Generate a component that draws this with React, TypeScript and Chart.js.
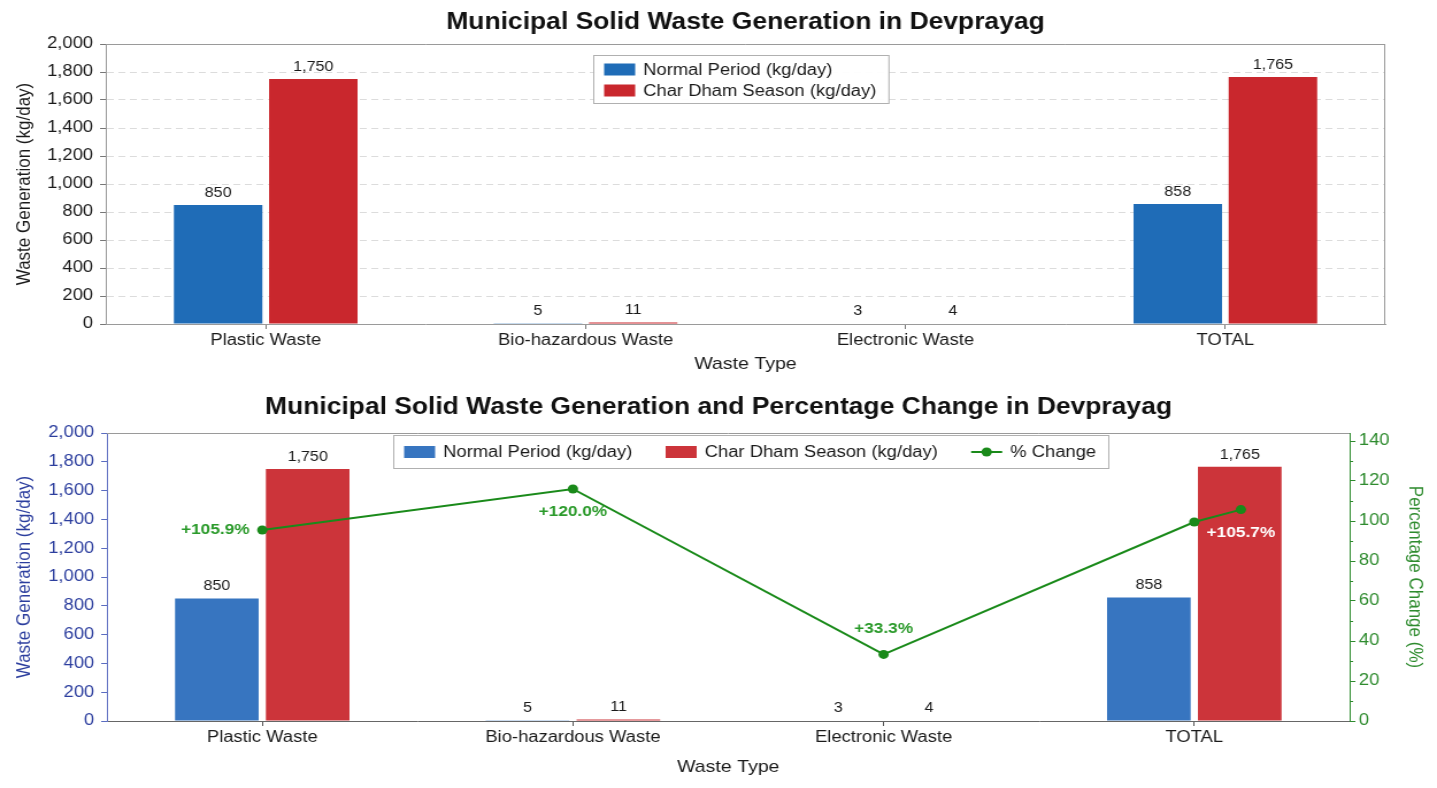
import React, { useEffect, useRef } from 'react';
import { Chart, registerables } from 'chart.js';

Chart.register(...registerables);

const FONT = '"Liberation Sans", Arial, Helvetica, sans-serif';
Chart.defaults.font.family = FONT;

// the reference is a horizontally stretched figure: draw at a narrower
// logical width and stretch the canvas back out to the full page width
const PAGE_W = 1437;
const LOGICAL_W = 1250;
const STRETCH = PAGE_W / LOGICAL_W;

// data
const categories = ['Plastic Waste', 'Bio-hazardous Waste', 'Electronic Waste', 'TOTAL'];
const normalPeriod = [850, 5, 3, 858];
const charDhamSeason = [1750, 11, 4, 1765];

// % change line as plotted (last point sits over the TOTAL season bar)
const pctX = [0, 1, 2, 3, 3.15];
const pctPlotted = [95.5, 116, 33.3, 99.5, 105.7];
const pctLabels = ['+105.9%', '+120.0%', '+33.3%', '', '+105.7%'];
const pctLabelSpot = ['left', 'below', 'above', 'none', 'below'];

const fmt = (v: number) => Number(v).toLocaleString('en-US');

const valueLabels = {
  id: 'valueLabels',
  afterDatasetsDraw(chart: any) {
    const ctx = chart.ctx;
    ctx.save();
    ctx.font = `14px ${FONT}`;
    ctx.fillStyle = '#1a1a1a';
    ctx.textAlign = 'center';
    ctx.textBaseline = 'bottom';
    chart.data.datasets.forEach((ds: any, di: number) => {
      if (ds.type === 'line') return;
      chart.getDatasetMeta(di).data.forEach((bar: any, i: number) => {
        const v = typeof ds.data[i] === 'object' ? ds.data[i].y : ds.data[i];
        ctx.fillText(fmt(v), bar.x, bar.y - 5);
      });
    });
    ctx.restore();
  },
};

function titlePlugin(text: string, overArea: boolean) {
  return {
    id: 'figTitle',
    afterDraw(chart: any) {
      const { ctx, chartArea, width } = chart;
      ctx.save();
      ctx.font = `bold 23px ${FONT}`;
      ctx.fillStyle = '#111';
      ctx.textAlign = 'center';
      ctx.textBaseline = 'middle';
      const cx = overArea ? (chartArea.left + chartArea.right) / 2 : width / 2;
      ctx.fillText(text, cx, 23);
      ctx.restore();
    },
  };
}

type LegendEntry = { label: string; color: string; kind: 'box' | 'line' };

function legendPlugin(entries: LegendEntry[], vertical: boolean, dx: number, dy: number) {
  return {
    id: 'boxLegend',
    afterDraw(chart: any) {
      const { ctx, chartArea } = chart;
      ctx.save();
      ctx.font = `16px ${FONT}`;
      const widths = entries.map((e) => ctx.measureText(e.label).width);
      const sw = 27, gap = 7, padL = 9, padR = 11, itemGap = 29;
      let w: number, h: number;
      if (vertical) {
        w = padL + sw + gap + Math.max(...widths) + padR;
        h = 48;
      } else {
        w = padL + widths.reduce((a, b) => a + b + sw + gap, 0) + itemGap * (entries.length - 1) + padR;
        h = 33;
      }
      const cx = (chartArea.left + chartArea.right) / 2 + dx;
      const x0 = Math.round(cx - w / 2) + 0.5;
      const y0 = chartArea.top + dy + 0.5;
      ctx.fillStyle = 'rgba(255,255,255,0.92)';
      ctx.fillRect(x0, y0, w, h);
      ctx.strokeStyle = '#b0b0b0';
      ctx.lineWidth = 1;
      ctx.strokeRect(x0, y0, w, h);
      ctx.textBaseline = 'middle';
      ctx.textAlign = 'left';
      let x = x0 + padL;
      entries.forEach((e, i) => {
        const y = vertical ? y0 + 14 + i * 21 : y0 + h / 2;
        if (vertical) x = x0 + padL;
        if (e.kind === 'box') {
          ctx.fillStyle = e.color;
          ctx.fillRect(x, y - 6, sw, 12);
        } else {
          ctx.strokeStyle = e.color;
          ctx.lineWidth = 2;
          ctx.beginPath();
          ctx.moveTo(x, y);
          ctx.lineTo(x + sw, y);
          ctx.stroke();
          ctx.fillStyle = e.color;
          ctx.beginPath();
          ctx.arc(x + sw / 2, y, 4.5, 0, Math.PI * 2);
          ctx.fill();
        }
        ctx.fillStyle = '#1a1a1a';
        ctx.fillText(e.label, x + sw + gap, y + 1);
        x += sw + gap + widths[i] + itemGap;
      });
      ctx.restore();
    },
  };
}

function framePlugin(sides: { top?: string; right?: string }) {
  return {
    id: 'frame',
    afterDatasetsDraw(chart: any) {
      const { ctx, chartArea } = chart;
      ctx.save();
      ctx.lineWidth = 1;
      if (sides.top) {
        ctx.strokeStyle = sides.top;
        ctx.beginPath();
        ctx.moveTo(chartArea.left, chartArea.top + 0.5);
        ctx.lineTo(chartArea.right, chartArea.top + 0.5);
        ctx.stroke();
      }
      if (sides.right) {
        ctx.strokeStyle = sides.right;
        ctx.beginPath();
        ctx.moveTo(chartArea.right - 0.5, chartArea.top);
        ctx.lineTo(chartArea.right - 0.5, chartArea.bottom);
        ctx.stroke();
      }
      ctx.restore();
    },
  };
}

const pctLabelPlugin = {
  id: 'pctLabels',
  afterDatasetsDraw(chart: any) {
    const ctx = chart.ctx;
    const di = chart.data.datasets.findIndex((d: any) => d.type === 'line');
    if (di < 0) return;
    ctx.save();
    ctx.font = `bold 15px ${FONT}`;
    ctx.textBaseline = 'middle';
    chart.getDatasetMeta(di).data.forEach((pt: any, i: number) => {
      const spot = pctLabelSpot[i];
      if (spot === 'none') return;
      ctx.fillStyle = i === pctLabels.length - 1 ? '#ffffff' : '#2a9a2a';
      if (spot === 'left') {
        ctx.textAlign = 'right';
        ctx.fillText(pctLabels[i], pt.x - 11, pt.y);
      } else {
        ctx.textAlign = 'center';
        ctx.fillText(pctLabels[i], pt.x, spot === 'below' ? pt.y + 23 : pt.y - 26);
      }
    });
    ctx.restore();
  },
};

const minorTicks = {
  id: 'minorTicks',
  afterDraw(chart: any) {
    const s = chart.scales.y2;
    if (!s) return;
    const ctx = chart.ctx;
    ctx.save();
    ctx.strokeStyle = '#2e8b2e';
    ctx.lineWidth = 1;
    for (let v = 10; v < 144; v += 20) {
      const y = Math.round(s.getPixelForValue(v)) + 0.5;
      ctx.beginPath();
      ctx.moveTo(s.left, y);
      ctx.lineTo(s.left + 3, y);
      ctx.stroke();
    }
    ctx.restore();
  },
};

const topConfig = (): any => ({
  type: 'bar',
  data: {
    labels: categories,
    datasets: [
      { label: 'Normal Period (kg/day)', data: normalPeriod, backgroundColor: '#1f6cb7', barPercentage: 0.93, categoryPercentage: 0.595 },
      { label: 'Char Dham Season (kg/day)', data: charDhamSeason, backgroundColor: '#c9272d', barPercentage: 0.93, categoryPercentage: 0.595 },
    ],
  },
  options: {
    animation: false,
    responsive: true,
    maintainAspectRatio: false,
    layout: { padding: { left: 0, right: 45, top: 44, bottom: 0 } },
    plugins: {
      legend: { display: false },
      tooltip: { enabled: false },
      title: { display: false },
    },
    scales: {
      x: {
        grid: { display: true, drawOnChartArea: false, offset: false, tickLength: 5, tickColor: '#777' },
        border: { display: true, color: '#9a9a9a' },
        ticks: { color: '#1a1a1a', font: { size: 16 }, padding: 2 },
        title: { display: true, text: 'Waste Type', color: '#1a1a1a', font: { size: 17 }, padding: { top: 4, bottom: 10 } },
        afterFit: (s: any) => { s.height = 61; },
      },
      y: {
        min: 0,
        max: 2000,
        ticks: { stepSize: 200, color: '#1a1a1a', font: { size: 16 }, padding: 6, callback: (v: any) => fmt(v) },
        grid: { color: '#dcdcdc', tickColor: '#777', tickLength: 5 },
        border: { display: true, color: '#9a9a9a', dash: [6, 4] },
        title: { display: true, text: 'Waste Generation (kg/day)', color: '#1a1a1a', font: { size: 17 }, padding: { top: 11, bottom: 0 } },
        afterFit: (s: any) => { s.width = 92; },
      },
    },
  },
  plugins: [
    valueLabels,
    framePlugin({ top: '#9a9a9a', right: '#9a9a9a' }),
    titlePlugin('Municipal Solid Waste Generation in Devprayag', true),
    legendPlugin(
      [
        { label: 'Normal Period (kg/day)', color: '#1f6cb7', kind: 'box' },
        { label: 'Char Dham Season (kg/day)', color: '#c9272d', kind: 'box' },
      ],
      true,
      -4,
      11,
    ),
  ],
});

// bottom chart: one linear x axis (category index) shared by bars and line
const bottomConfig = (): any => ({
  type: 'bar',
  data: {
    datasets: [
      {
        type: 'line',
        label: '% Change',
        data: pctX.map((x, i) => ({ x, y: pctPlotted[i] })),
        yAxisID: 'y2',
        borderColor: '#1a8a1a',
        borderWidth: 2,
        pointRadius: 4.5,
        pointBackgroundColor: '#1a8a1a',
        pointBorderWidth: 0,
      },
      {
        label: 'Normal Period (kg/day)',
        data: normalPeriod.map((y, i) => ({ x: i, y })),
        backgroundColor: '#3775c0',
        barPercentage: 0.92,
        categoryPercentage: 0.585,
        yAxisID: 'y',
      },
      {
        label: 'Char Dham Season (kg/day)',
        data: charDhamSeason.map((y, i) => ({ x: i, y })),
        backgroundColor: '#cc343a',
        barPercentage: 0.92,
        categoryPercentage: 0.585,
        yAxisID: 'y',
      },
    ],
  },
  options: {
    animation: false,
    responsive: true,
    maintainAspectRatio: false,
    layout: { padding: { left: 0, right: 0, top: 48, bottom: 0 } },
    plugins: {
      legend: { display: false },
      tooltip: { enabled: false },
      title: { display: false },
    },
    scales: {
      x: {
        type: 'linear',
        min: -0.5,
        max: 3.5,
        offset: false,
        afterBuildTicks: (s: any) => { s.ticks = categories.map((_, i) => ({ value: i })); },
        grid: { display: true, drawOnChartArea: false, offset: false, tickLength: 5, tickColor: '#555' },
        border: { display: true, color: '#666' },
        ticks: {
          autoSkip: false,
          maxRotation: 0,
          color: '#1a1a1a',
          font: { size: 16 },
          padding: 2,
          callback: (v: any) => categories[v] ?? '',
        },
        title: { display: true, text: 'Waste Type', color: '#1a1a1a', font: { size: 17 }, padding: { top: 4, bottom: 10 } },
        afterFit: (s: any) => { s.height = 67; },
      },
      y: {
        position: 'left',
        min: 0,
        max: 2000,
        ticks: { stepSize: 200, color: '#2c3e9e', font: { size: 16 }, padding: 6, callback: (v: any) => fmt(v) },
        grid: { drawOnChartArea: false, tickColor: '#5a6cc0', tickLength: 5 },
        border: { display: true, color: '#6675c4' },
        title: { display: true, text: 'Waste Generation (kg/day)', color: '#2c3e9e', font: { size: 17 }, padding: { top: 11, bottom: 0 } },
        afterFit: (s: any) => { s.width = 93; },
      },
      y2: {
        position: 'right',
        min: 0,
        max: 144,
        ticks: { stepSize: 20, includeBounds: false, color: '#2e8b2e', font: { size: 16 }, padding: 3 },
        grid: { drawOnChartArea: false, tickColor: '#2e8b2e', tickLength: 5 },
        border: { display: true, color: '#2e8b2e' },
        title: { display: true, text: 'Percentage Change (%)', color: '#2e8b2e', font: { size: 17 }, padding: { top: 9, bottom: 0 } },
        afterFit: (s: any) => { s.width = 76; },
      },
    },
  },
  plugins: [
    valueLabels,
    pctLabelPlugin,
    minorTicks,
    framePlugin({ top: '#9a9a9a' }),
    titlePlugin('Municipal Solid Waste Generation and Percentage Change in Devprayag', false),
    legendPlugin(
      [
        { label: 'Normal Period (kg/day)', color: '#3775c0', kind: 'box' },
        { label: 'Char Dham Season (kg/day)', color: '#cc343a', kind: 'box' },
        { label: '% Change', color: '#1a8a1a', kind: 'line' },
      ],
      false,
      19,
      2,
    ),
  ],
});

const ChartBox: React.FC<{ build: () => any; top: number; height: number }> = ({ build, top, height }) => {
  const canvasRef = useRef<HTMLCanvasElement>(null);

  useEffect(() => {
    if (!canvasRef.current) return;
    const chart = new Chart(canvasRef.current, build());
    return () => chart.destroy();
  }, [build]);

  return (
    <div
      style={{
        position: 'absolute',
        left: 0,
        top,
        width: LOGICAL_W,
        height,
        transform: `scaleX(${STRETCH})`,
        transformOrigin: '0 0',
      }}
    >
      <canvas ref={canvasRef}></canvas>
    </div>
  );
};

const App: React.FC = () => {
  return (
    <div style={{ position: 'fixed', left: 0, top: 0, width: PAGE_W, height: 788, background: '#fff', overflow: 'hidden' }}>
      <ChartBox build={topConfig} top={0} height={385} />
      <ChartBox build={bottomConfig} top={385} height={403} />
    </div>
  );
};

export default App;
